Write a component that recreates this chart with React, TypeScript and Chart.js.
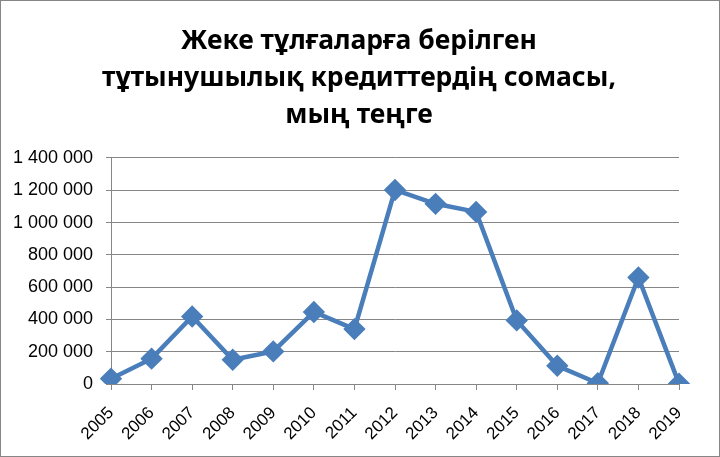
import React, { useEffect, useRef } from "react";
import { Chart, registerables } from "chart.js";

Chart.register(...registerables);

const years = ["2005","2006","2007","2008","2009","2010","2011","2012","2013","2014","2015","2016","2017","2018","2019"];
const amounts = [33000, 157000, 418000, 150000, 202000, 446000, 340000, 1202000, 1116000, 1066000, 394000, 113000, 5000, 660000, 2000];
const titleLines = ["Жеке тұлғаларға берілген", "тұтынушылық кредиттердің сомасы,", "мың теңге"];

const fmt = (v: number) => String(Math.round(v)).replace(/\B(?=(\d{3})+(?!\d))/g, " ");

const shiftTitle = {
  id: "shiftTitle",
  afterLayout(chart: any) {
    const t = chart.titleBlock;
    if (t) {
      t.left = 38;
      t.right = 678;
      t.width = 640;
    }
  },
};

export default function App() {
  const ref = useRef<HTMLCanvasElement | null>(null);
  useEffect(() => {
    document.body.style.margin = "0";
    const ctx = ref.current!;
    const chart = new Chart(ctx, {
      type: "line",
      data: {
        labels: years,
        datasets: [{
          data: amounts,
          borderColor: "#4A7EBB",
          backgroundColor: "#4A7EBB",
          borderWidth: 4.5,
          pointStyle: "rectRot",
          pointRadius: 8,
          pointHoverRadius: 8,
          tension: 0,
        }],
      },
      plugins: [shiftTitle],
      options: {
        responsive: false,
        animation: false,
        layout: { padding: { left: 0, right: 40, top: 0, bottom: 0 } },
        plugins: {
          legend: { display: false },
          tooltip: { enabled: false },
          title: {
            display: true,
            text: titleLines,
            color: "#000",
            font: { family: "'Noto Sans', sans-serif", size: 26.5, weight: "bold", lineHeight: 1.396 },
            padding: { top: 21.5, bottom: 24.5 },
          },
        },
        scales: {
          x: {
            offset: false,
            grid: { drawOnChartArea: false, drawTicks: true, tickLength: 6, color: "#868686" },
            border: { color: "#868686", width: 1 },
            ticks: {
              color: "#000",
              minRotation: 45,
              maxRotation: 45,
              font: { family: "'Liberation Sans', sans-serif", size: 17 },
              padding: 13,
            },
            afterFit: (s: any) => { s.height = 72; },
          },
          y: {
            min: 0,
            max: 1400000,
            grid: { color: "#868686", drawTicks: true, tickLength: 5 },
            border: { color: "#868686", width: 1 },
            ticks: {
              stepSize: 200000,
              color: "#000",
              font: { family: "'Liberation Sans', sans-serif", size: 18 },
              padding: 13,
              callback: (v: any) => fmt(Number(v)),
            },
            afterFit: (s: any) => { s.width = 110; },
          },
        },
      },
    });
    return () => chart.destroy();
  }, []);
  return (
    <div style={{ position: "relative", width: 720, height: 457, boxSizing: "border-box", border: "1px solid #868686", background: "#fff" }}>
      <canvas ref={ref} width={718} height={455} style={{ display: "block" }} />
    </div>
  );
}
